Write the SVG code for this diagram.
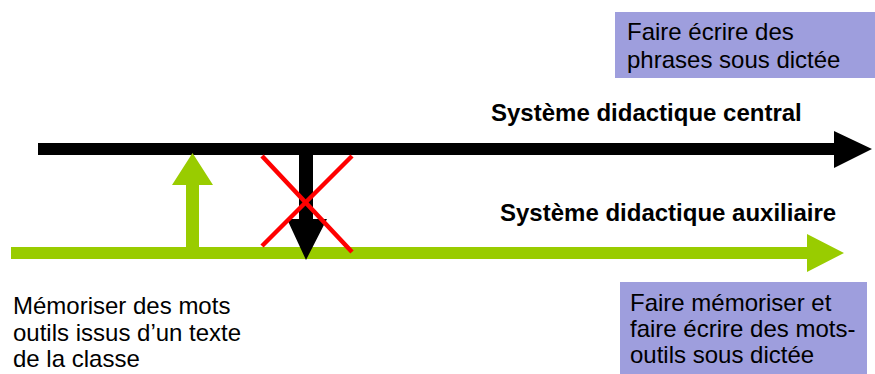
<svg xmlns="http://www.w3.org/2000/svg" width="875" height="374" viewBox="0 0 875 374">
<style>
text{font-family:"Liberation Sans",Arial,sans-serif;font-size:24px;fill:#000}
.b{font-weight:bold}
.box{fill:#9E9EDD}
.x{stroke:#FF0000;stroke-width:4.5;fill:none}
</style>
<rect width="875" height="374" fill="#fff"/>
<g id="connectors">
<polygon id="central" points="38,143 834,143 834,131 872,149 834,168 834,155 38,155" fill="#000"/>
<polygon id="auxiliaire" points="11,247 807,247 807,234 844,253 807,272 807,259 11,259" fill="#99CC00"/>
<polygon id="up" points="186,247 186,185 172,185 192.5,153 213,185 199,185 199,247" fill="#99CC00"/>
<polygon id="down" points="299,155 313,155 313,219 327,219 306,260 287,219 299,219" fill="#000"/>
<g id="cross">
<line class="x" x1="262" y1="156" x2="352" y2="252"/>
<line class="x" x1="352" y1="156" x2="262" y2="246"/>
</g>
</g>
<g id="label-central"><text class="b" x="491" y="121">Système didactique central</text></g>
<g id="label-auxiliaire"><text class="b" x="500" y="221">Système didactique auxiliaire</text></g>
<g id="box-top">
<rect class="box" x="615" y="12" width="260" height="66"/>
<text x="627" y="40">Faire écrire des</text>
<text x="627" y="68">phrases sous dictée</text>
</g>
<g id="box-bottom">
<rect class="box" x="620" y="282" width="247" height="92"/>
<text x="630" y="311">Faire mémoriser et</text>
<text x="630" y="337">faire écrire des mots-</text>
<text x="630" y="363">outils sous dictée</text>
</g>
<g id="left-text">
<text x="13" y="314">Mémoriser des mots</text>
<text x="13" y="341">outils issus d’un texte</text>
<text x="13" y="367">de la classe</text>
</g>
</svg>
